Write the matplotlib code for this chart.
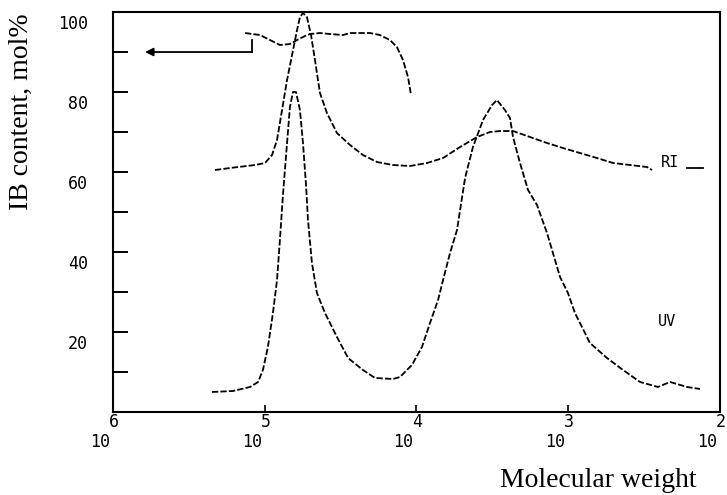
import numpy as np
import matplotlib
matplotlib.use("Agg")
import matplotlib.pyplot as plt
import matplotlib.transforms as mtransforms

# ============================================================
# Data (x given as log10 M)
# ============================================================
ib_logm = [5.130, 5.031, 4.965, 4.900, 4.834, 4.787, 4.735, 4.702, 4.636,
           4.570, 4.484, 4.438, 4.306, 4.241, 4.175, 4.129, 4.089, 4.056, 4.036]
ib_val = [94.75, 94.25, 93.0, 91.75, 92.0, 93.0, 94.0, 94.5, 94.75,
          94.5, 94.25, 94.75, 94.75, 94.25, 93.0, 91.25, 88.0, 83.75, 79.25]

# arrow pointing from the IB curve to the y axis at 90 mol%
arrow_logm = [5.084, 5.789]
arrow_val = 90
step_val = [90, 93]

ri_logm = [5.328, 5.229, 5.064, 4.998, 4.952, 4.919, 4.886, 4.853, 4.820,
           4.787, 4.768, 4.748, 4.722, 4.695, 4.669, 4.636, 4.590, 4.524,
           4.438, 4.353, 4.260, 4.155, 4.043, 3.931, 3.825, 3.713, 3.601,
           3.516, 3.450, 3.364, 3.252, 3.140, 3.035, 2.923, 2.811, 2.705,
           2.593, 2.481, 2.448]
ri_val = [60.5, 61.0, 61.75, 62.25, 64.25, 68.0, 75.5, 83.0, 89.25,
          95.5, 98.75, 99.75, 98.75, 94.25, 88.0, 79.75, 74.75, 69.75,
          66.75, 64.25, 62.5, 61.75, 61.5, 62.25, 63.5, 66.25, 68.75,
          70.0, 70.25, 70.25, 68.75, 67.25, 66.0, 64.75, 63.5, 62.25,
          61.75, 61.25, 60.5]
ri_tail_logm = [2.217, 2.112]
ri_tail_val = [61.0, 61.0]

uv_logm = [5.348, 5.209, 5.097, 5.044, 5.012, 4.979, 4.946, 4.919, 4.900,
           4.880, 4.853, 4.834, 4.814, 4.794, 4.768, 4.748, 4.728, 4.715,
           4.689, 4.656, 4.603, 4.524, 4.451, 4.353, 4.273, 4.155, 4.109,
           4.030, 3.964, 3.911, 3.858, 3.825, 3.779, 3.733, 3.680, 3.628,
           3.562, 3.502, 3.470, 3.417, 3.384, 3.364, 3.318, 3.265, 3.206,
           3.140, 3.054, 3.002, 2.956, 2.857, 2.745, 2.639, 2.527, 2.409,
           2.329, 2.217, 2.132]
uv_val = [5.0, 5.25, 6.25, 7.5, 10.5, 16.25, 24.75, 33.0, 43.0,
          54.25, 67.25, 76.25, 80.0, 80.0, 75.5, 67.25, 56.75, 48.0,
          37.25, 29.75, 24.75, 18.75, 13.5, 10.5, 8.5, 8.25, 8.75,
          11.75, 16.25, 22.25, 28.0, 33.0, 39.75, 45.5, 58.5, 66.25,
          73.0, 76.75, 78.0, 75.5, 73.5, 68.75, 62.25, 55.5, 51.75,
          44.75, 33.75, 29.75, 24.75, 17.25, 13.5, 10.5, 7.5, 6.25,
          7.5, 6.25, 5.75]

x_decades = [6, 5, 4, 3, 2]
y_major = [20, 40, 60, 80, 100]
y_minor = [10, 30, 50, 70, 90]

MONO = "DejaVu Sans Mono"
SERIF = "Liberation Serif"

# ── Figure ───────────────────────────────────────────────────
fig = plt.figure(figsize=(7.27, 4.95), dpi=100)
ax = fig.add_axes([0.1554, 0.1677, 0.835, 0.808])

dash = dict(color="black", lw=1.3, linestyle=(0, (3.5, 1.2)))

ax.plot(10 ** np.array(ib_logm), ib_val, **dash)
ax.plot(10 ** np.array(ri_logm), ri_val, **dash)
ax.plot(10 ** np.array(ri_tail_logm), ri_tail_val, color="black", lw=1.3)
ax.plot(10 ** np.array(uv_logm), uv_val, **dash)

# step + arrow to the axis
ax.plot([10 ** arrow_logm[0]] * 2, step_val, color="black", lw=1.3)
ax.annotate("", xy=(10 ** arrow_logm[1], arrow_val),
            xytext=(10 ** arrow_logm[0], arrow_val),
            arrowprops=dict(arrowstyle="-|>", color="black", lw=1.3,
                            mutation_scale=12, shrinkA=0, shrinkB=0))

# curve labels
ax.text(10 ** 2.33, 60.5, "RI", family=MONO, fontsize=11, ha="center", va="bottom")
ax.text(10 ** 2.35, 22.5, "UV", family=MONO, fontsize=11, ha="center", va="center")

# ── Axes styling ─────────────────────────────────────────────
ax.set_xscale("log")
ax.set_xlim(1e6, 1e2)
ax.set_ylim(0, 100)

for sp in ax.spines.values():
    sp.set_linewidth(1.5)

ax.set_yticks(y_major)
ax.set_yticks(y_minor, minor=True)
ax.set_yticklabels([str(v) for v in y_major], family=MONO, fontsize=12)
ax.tick_params(axis="y", which="both", direction="in", length=11, width=1.4,
               pad=18)
shift = mtransforms.ScaledTranslation(0, -0.1, fig.dpi_scale_trans)
for lbl in ax.get_yticklabels():
    lbl.set_transform(lbl.get_transform() + shift)

ax.set_xticks([10.0 ** d for d in x_decades])
ax.xaxis.set_minor_locator(matplotlib.ticker.NullLocator())
ax.tick_params(axis="x", which="major", direction="in", length=5, width=1.2,
               labelbottom=False)

# 10 with exponent hanging under the axis, as on the original plot
for d in x_decades:
    ax.annotate(str(d), xy=(10.0 ** d, 0), xycoords=("data", "axes fraction"),
                xytext=(1, -10), textcoords="offset pixels",
                ha="center", va="center", family=MONO, fontsize=12,
                annotation_clip=False)
    ax.annotate("10", xy=(10.0 ** d, 0), xycoords=("data", "axes fraction"),
                xytext=(-13, -30), textcoords="offset pixels",
                ha="center", va="center", family=MONO, fontsize=12,
                annotation_clip=False)

ax.set_ylabel("IB content, mol%", family=SERIF, fontsize=20)
ax.yaxis.set_label_coords(-0.13, 0.75)
ax.set_xlabel("Molecular weight", family=SERIF, fontsize=20)
ax.xaxis.set_label_coords(0.8, -0.14)

fig.savefig("out.png", dpi=100)
